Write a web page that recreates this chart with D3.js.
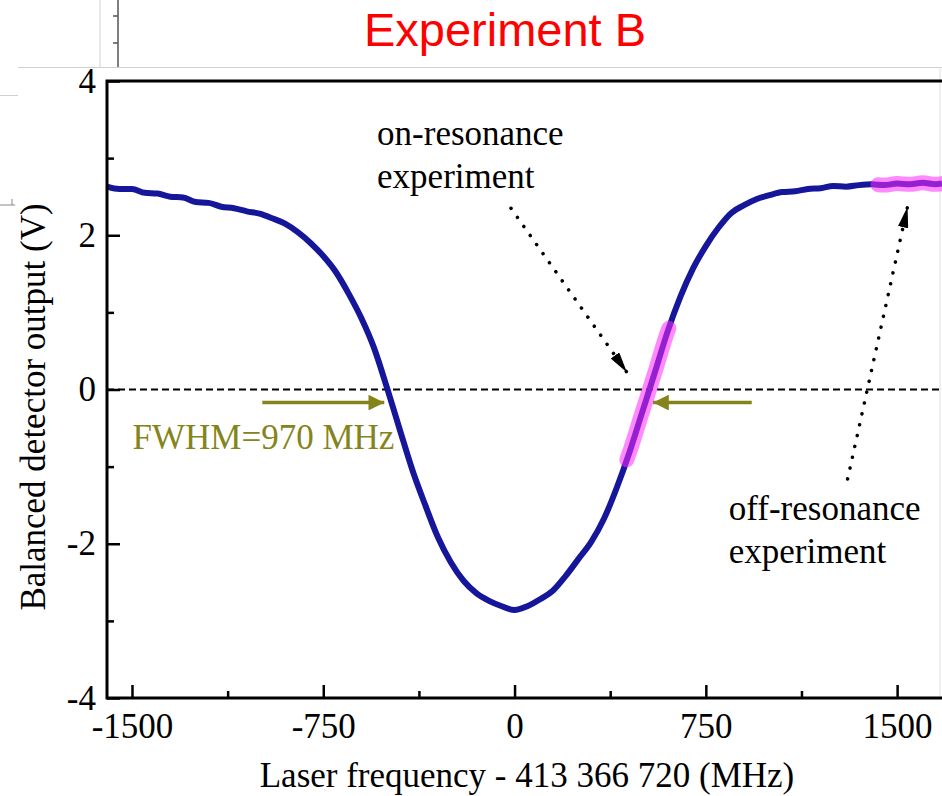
<!DOCTYPE html>
<html lang="en">
<head>
<meta charset="UTF-8">
<title>Experiment B</title>
<script src="https://d3js.org/d3.v7.min.js"></script>
<style>
  body { margin: 0; background: #fff; }
  svg text { font-family: "Liberation Serif", "Times New Roman", serif; }
</style>
</head>
<body>
<div id="chart"></div>
<script>
// laser detuning (MHz) and balanced detector output (V)
var freq = [-1598, -1550, -1500, -1450, -1400, -1350, -1300, -1250, -1200, -1150,
            -1100, -1050, -1000, -950, -900, -850, -800, -750, -700, -650,
            -600, -550, -500, -450, -400, -350, -300, -250, -200, -150,
            -100, -50, 0, 50, 100, 150, 200, 250, 300, 350,
            400, 450, 500, 550, 600, 650, 700, 750, 800, 850,
            900, 950, 1000, 1050, 1100, 1150, 1200, 1250, 1300, 1350,
            1400, 1450, 1500, 1550, 1600, 1650, 1676];
var signal = [2.63, 2.60, 2.60, 2.55, 2.54, 2.50, 2.49, 2.43, 2.42, 2.37,
              2.35, 2.31, 2.28, 2.22, 2.15, 2.04, 1.90, 1.73, 1.52, 1.24,
              0.92, 0.53, 0.02, -0.52, -1.05, -1.50, -1.92, -2.24, -2.48, -2.64,
              -2.74, -2.81, -2.86, -2.81, -2.72, -2.61, -2.42, -2.20, -1.98, -1.68,
              -1.28, -0.82, -0.30, 0.22, 0.75, 1.20, 1.57, 1.86, 2.10, 2.29,
              2.39, 2.47, 2.52, 2.56, 2.57, 2.60, 2.61, 2.64, 2.63, 2.65,
              2.66, 2.65, 2.67, 2.66, 2.68, 2.66, 2.67];

var xMajor = [-1500, -750, 0, 750, 1500];
var xMinor = [-1125, -375, 375, 1125];
var yMajor = [-4, -2, 0, 2, 4];
var yMinor = [-3, -1, 1, 3];

// parts of the trace used for the two experiments
var onResonance = [440, 605];
var offResonance = [1425, 1676];

var width = 942, height = 796;
var plotLeft = 107, plotTop = 81, plotRight = 942, plotBottom = 698;

var svg = d3.select("#chart").append("svg")
    .attr("width", width)
    .attr("height", height);

// bits of the screenshot around the figure
var frame = svg.append("g").attr("fill", "none");
frame.append("line").attr("x1", 100).attr("x2", 100).attr("y1", 0).attr("y2", 67)
    .attr("stroke", "#d0d0d0").attr("stroke-width", 1);
frame.append("line").attr("x1", 118).attr("x2", 118).attr("y1", 0).attr("y2", 67)
    .attr("stroke", "#555").attr("stroke-width", 1.5);
[16, 43].forEach(function(yy) {
    frame.append("line").attr("x1", 113).attr("x2", 118).attr("y1", yy).attr("y2", yy)
        .attr("stroke", "#555").attr("stroke-width", 1.5);
});
frame.append("line").attr("x1", 18).attr("x2", 942).attr("y1", 67.5).attr("y2", 67.5)
    .attr("stroke", "#d0d0d0").attr("stroke-width", 1);
frame.append("line").attr("x1", 0).attr("x2", 18).attr("y1", 95.5).attr("y2", 95.5)
    .attr("stroke", "#d0d0d0").attr("stroke-width", 1);
frame.append("line").attr("x1", 940).attr("x2", 940).attr("y1", 67).attr("y2", 698)
    .attr("stroke", "#e0e0e0").attr("stroke-width", 1);
frame.append("line").attr("x1", 0).attr("x2", 15).attr("y1", 205).attr("y2", 205)
    .attr("stroke", "#888").attr("stroke-width", 1);
frame.append("line").attr("x1", 12).attr("x2", 12).attr("y1", 199).attr("y2", 205)
    .attr("stroke", "#888").attr("stroke-width", 1);

svg.append("text")
    .attr("x", 505).attr("y", 46)
    .attr("text-anchor", "middle")
    .style("font-family", "'Liberation Sans', Arial, sans-serif")
    .style("font-size", "47px")
    .attr("fill", "#ff0000")
    .text("Experiment B");

var x = d3.scaleLinear().domain([-1598, 1676]).range([plotLeft, plotRight]);
var y = d3.scaleLinear().domain([-4, 4]).range([plotBottom, plotTop]);

var data = freq.map(function(f, i) { return { f: f, v: signal[i] }; });

function valueAt(f) {
    var i = d3.bisector(function(d) { return d.f; }).left(data, f);
    if (i <= 0) return data[0].v;
    if (i >= data.length) return data[data.length - 1].v;
    var a = data[i - 1], b = data[i];
    return a.v + (b.v - a.v) * (f - a.f) / (b.f - a.f);
}

function span(range) {
    var pts = data.filter(function(d) { return d.f > range[0] && d.f < range[1]; });
    pts.unshift({ f: range[0], v: valueAt(range[0]) });
    pts.push({ f: range[1], v: valueAt(range[1]) });
    return pts;
}

var defs = svg.append("defs");
defs.append("clipPath").attr("id", "plot-clip")
    .append("rect")
    .attr("x", plotLeft).attr("y", plotTop)
    .attr("width", plotRight - plotLeft).attr("height", plotBottom - plotTop);

var line = d3.line()
    .curve(d3.curveMonotoneX)
    .x(function(d) { return x(d.f); })
    .y(function(d) { return y(d.v); });

// zero line
svg.append("line")
    .attr("x1", x(-1598)).attr("x2", x(1676))
    .attr("y1", y(0)).attr("y2", y(0))
    .attr("stroke", "#000")
    .attr("stroke-width", 2.2)
    .attr("stroke-dasharray", "7,4");

svg.append("path")
    .datum(data)
    .attr("clip-path", "url(#plot-clip)")
    .attr("fill", "none")
    .attr("stroke", "#16169a")
    .attr("stroke-width", 6)
    .attr("stroke-linejoin", "round")
    .attr("d", line);

[onResonance, offResonance].forEach(function(r) {
    svg.append("path")
        .datum(span(r))
        .attr("fill", "none")
        .attr("stroke", "rgba(255, 40, 255, 0.55)")
        .attr("stroke-width", 15)
        .attr("stroke-linecap", "round")
        .attr("d", line);
});

// axes, ticks pointing inward
var axisFont = "35px";
var fmt = function(d) { return String(d); };
var gx = svg.append("g").attr("transform", "translate(0," + plotBottom + ")");
gx.call(d3.axisBottom(x).tickValues(xMajor).tickSizeInner(-13).tickSizeOuter(0).tickPadding(15)
    .tickFormat(fmt));
gx.append("g").call(d3.axisBottom(x).tickValues(xMinor).tickSizeInner(-7).tickSizeOuter(0)
    .tickFormat(""));

var gy = svg.append("g").attr("transform", "translate(" + plotLeft + ",0)");
gy.call(d3.axisLeft(y).tickValues(yMajor).tickSizeInner(-13).tickSizeOuter(0).tickPadding(11)
    .tickFormat(fmt));
gy.append("g").call(d3.axisLeft(y).tickValues(yMinor).tickSizeInner(-7).tickSizeOuter(0)
    .tickFormat(""));

svg.selectAll(".domain").remove();
svg.selectAll(".tick line").attr("stroke", "#000").attr("stroke-width", 2.5);
svg.selectAll(".tick text")
    .attr("fill", "#000")
    .style("font-family", "'Liberation Serif', 'Times New Roman', serif")
    .style("font-size", axisFont);

// plot frame (bottom, left, top)
svg.append("path")
    .attr("d", "M" + plotRight + "," + plotTop + "H" + plotLeft + "V" + plotBottom + "H" + plotRight)
    .attr("fill", "none")
    .attr("stroke", "#000")
    .attr("stroke-width", 3);

svg.append("text")
    .attr("x", 527).attr("y", 787)
    .attr("text-anchor", "middle")
    .style("font-size", axisFont)
    .text("Laser frequency - 413 366 720 (MHz)");

svg.append("text")
    .attr("transform", "translate(45,407) rotate(-90)")
    .attr("text-anchor", "middle")
    .style("font-size", axisFont)
    .text("Balanced detector output (V)");

// annotations
defs.append("marker")
    .attr("id", "olive-head")
    .attr("viewBox", "0 0 10 10")
    .attr("refX", 10).attr("refY", 5)
    .attr("markerWidth", 4.5).attr("markerHeight", 4.5)
    .attr("markerUnits", "strokeWidth")
    .attr("orient", "auto")
    .append("path").attr("d", "M0,0L10,5L0,10Z").attr("fill", "#84841a");
defs.append("marker")
    .attr("id", "black-head")
    .attr("viewBox", "0 0 20 10")
    .attr("refX", 20).attr("refY", 5)
    .attr("markerWidth", 6).attr("markerHeight", 3)
    .attr("markerUnits", "strokeWidth")
    .attr("orient", "auto")
    .append("path").attr("d", "M0,0L20,5L0,10Z").attr("fill", "#000");

var fwhmArrows = [[-989, -511], [930, 543]];
fwhmArrows.forEach(function(a) {
    svg.append("line")
        .attr("x1", x(a[0])).attr("x2", x(a[1]))
        .attr("y1", y(-0.17)).attr("y2", y(-0.17))
        .attr("stroke", "#84841a")
        .attr("stroke-width", 3.5)
        .attr("marker-end", "url(#olive-head)");
});

svg.append("text")
    .attr("x", x(-1498)).attr("y", y(-0.77))
    .attr("fill", "#84841a")
    .style("font-size", axisFont)
    .text("FWHM=970 MHz");

var pointers = [
    { from: [-14, 2.35], to: [441, 0.22] },
    { from: [1306, -1.16], to: [1541, 2.37] }
];
pointers.forEach(function(p) {
    svg.append("line")
        .attr("x1", x(p.from[0])).attr("y1", y(p.from[1]))
        .attr("x2", x(p.to[0])).attr("y2", y(p.to[1]))
        .attr("stroke", "#000")
        .attr("stroke-width", 3.5)
        .attr("stroke-linecap", "round")
        .attr("stroke-dasharray", "0.1,11")
        .attr("marker-end", "url(#black-head)");
});

var labels = [
    { text: "on-resonance", f: -539, v: 3.17 },
    { text: "experiment", f: -539, v: 2.61 },
    { text: "off-resonance", f: 840, v: -1.69 },
    { text: "experiment", f: 840, v: -2.25 }
];
svg.selectAll(".note")
    .data(labels)
    .enter().append("text")
    .attr("class", "note")
    .attr("x", function(d) { return x(d.f); })
    .attr("y", function(d) { return y(d.v); })
    .style("font-size", axisFont)
    .text(function(d) { return d.text; });
</script>
</body>
</html>
